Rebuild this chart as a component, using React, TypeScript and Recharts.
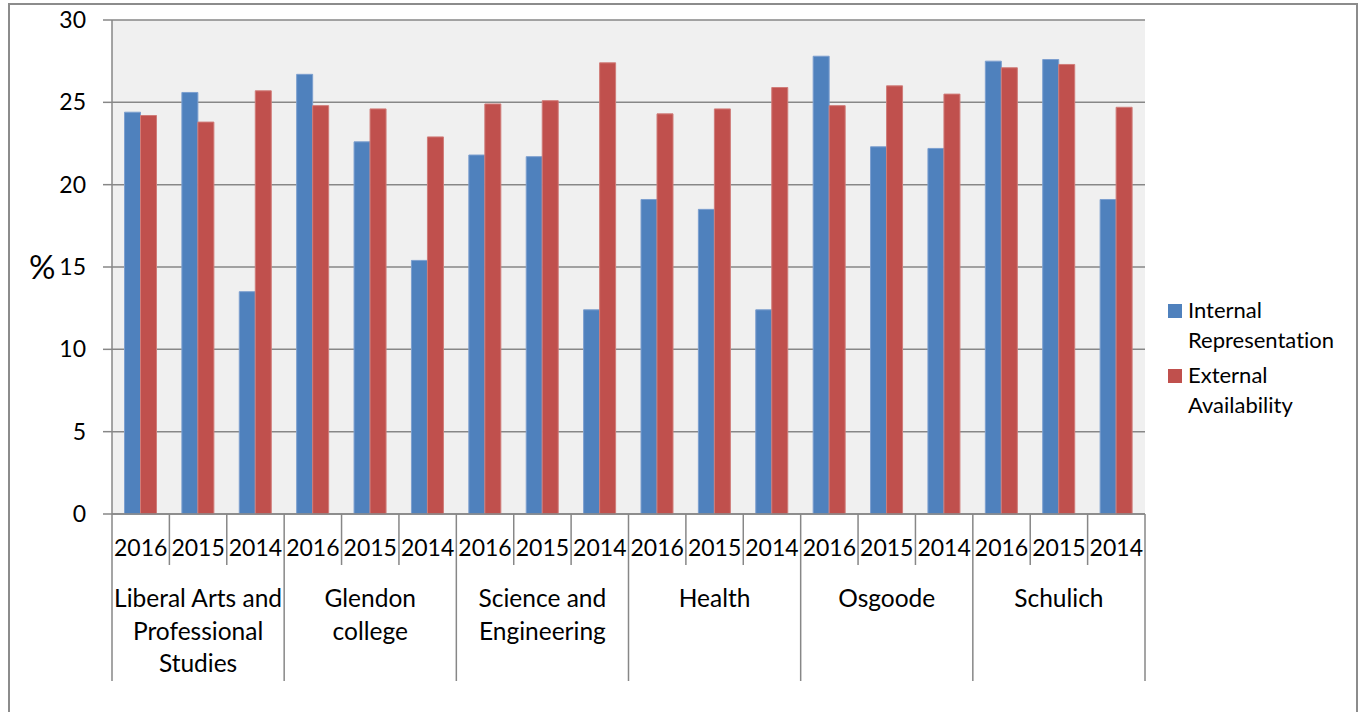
import React from 'react';
import { BarChart, Bar, XAxis, YAxis, CartesianGrid, Legend, Label } from 'recharts';

// ---- data ----
const GROUP_LABELS: string[][] = [
  ['Liberal Arts and', 'Professional', 'Studies'],
  ['Glendon', 'college'],
  ['Science and', 'Engineering'],
  ['Health'],
  ['Osgoode'],
  ['Schulich'],
];
const YEARS = ['2016', '2015', '2014'];
const INTERNAL = [24.4, 25.6, 13.5, 26.7, 22.6, 15.4, 21.8, 21.7, 12.4, 19.1, 18.5, 12.4, 27.8, 22.3, 22.2, 27.5, 27.6, 19.1];
const EXTERNAL = [24.2, 23.8, 25.7, 24.8, 24.6, 22.9, 24.9, 25.1, 27.4, 24.3, 24.6, 25.9, 24.8, 26.0, 25.5, 27.1, 27.3, 24.7];
const Y_TICKS = [0, 5, 10, 15, 20, 25, 30];
const SERIES_NAMES = [['Internal', 'Representation'], ['External', 'Availability']];

const data = INTERNAL.map((v, i) => ({
  year: YEARS[i % 3],
  group: i,
  internal: v,
  external: EXTERNAL[i],
}));

// ---- layout ----
const W = 1364;
const H = 712;
const M = { top: 20, right: 219, left: 0, bottom: 28 };
const Y_AXIS_W = 112;
const PLOT_W = W - M.left - M.right - Y_AXIS_W;
const BAND = PLOT_W / data.length;
const FONT = 'Lato, "Open Sans", sans-serif';
const GRID = '#878787';
const BLUE = '#4F81BD';
const RED = '#C0504D';
const NOLIG: React.CSSProperties = { fontVariantLigatures: 'none', fontFeatureSettings: '"liga" 0' } as any;

const XTick = (props: any) => {
  const { x, y, payload, index } = props;
  const i = typeof index === 'number' ? index : payload.index;
  const half = BAND / 2;
  const groupEnd = (i + 1) % 3 === 0;
  const gIdx = Math.floor(i / 3);
  return (
    <g>
      <text x={x} y={y + 42} textAnchor="middle" fontSize={23} fontFamily={FONT} fill="#000" style={NOLIG}>
        {payload.value}
      </text>
      <line x1={x + half} x2={x + half} y1={y} y2={groupEnd ? y + 167 : y + 51} stroke={GRID} strokeWidth={1.5} />
      {i === 0 && <line x1={x - half} x2={x - half} y1={y} y2={y + 167} stroke={GRID} strokeWidth={1.5} />}
      {i % 3 === 1 &&
        GROUP_LABELS[gIdx].map((ln, k) => (
          <text key={k} x={x} y={y + 93 + k * 32.5} textAnchor="middle" fontSize={24.5} fontFamily={FONT} fill="#000" style={NOLIG}>
            {ln}
          </text>
        ))}
    </g>
  );
};

const LegendContent = () => (
  <div style={{ fontFamily: FONT, fontSize: 22, lineHeight: '30px', color: '#000', ...NOLIG }}>
    {SERIES_NAMES.map((lines, k) => (
      <div key={k} style={{ position: 'relative', paddingLeft: 22, marginBottom: 5 }}>
        <span
          style={{
            position: 'absolute',
            left: 2,
            top: 9,
            width: 14,
            height: 14,
            background: k === 0 ? BLUE : RED,
          }}
        />
        {lines.map((l, j) => (
          <div key={j}>{l}</div>
        ))}
      </div>
    ))}
  </div>
);

export default function App() {
  return (
    <div style={{ position: 'absolute', left: 0, top: 0, width: W, height: H }}>
      <div
        style={{
          position: 'absolute',
          left: 8,
          top: 3,
          width: 1350,
          height: 709,
          boxSizing: 'border-box',
          border: '2px solid #8c8c8c',
          borderBottom: 'none',
        }}
      />
      <div style={{ position: 'absolute', left: 0, top: 0 }}>
        <BarChart width={W} height={H} data={data} margin={M} barCategoryGap={12.5} barGap={0}>
          <CartesianGrid vertical={false} stroke={GRID} strokeWidth={1.5} fill="#F0F0F0" />
          <XAxis
            dataKey="year"
            interval={0}
            height={170}
            tickSize={0}
            tickMargin={0}
            tickLine={false}
            axisLine={{ stroke: GRID, strokeWidth: 1.5 }}
            tick={<XTick />}
          />
          <YAxis
            width={Y_AXIS_W}
            domain={[0, 30]}
            ticks={Y_TICKS}
            interval={0}
            tickSize={9}
            tickMargin={17}
            tickLine={{ stroke: GRID, strokeWidth: 1.5 }}
            axisLine={{ stroke: GRID, strokeWidth: 1.5 }}
            tick={{ fontSize: 23, fontFamily: FONT, fill: '#000' }}
          >
            <Label value="%" position="insideLeft" offset={29} fontSize={33} fontFamily={FONT} fill="#000" />
          </YAxis>
          <Legend
            layout="horizontal"
            verticalAlign="middle"
            align="center"
            content={<LegendContent />}
            wrapperStyle={{ left: 1166, top: 295, width: 200, height: 'auto' }}
          />
          <Bar dataKey="internal" name="Internal Representation" fill={BLUE} stroke="#7c9fcf" strokeWidth={1} isAnimationActive={false} />
          <Bar dataKey="external" name="External Availability" fill={RED} stroke="#d07c79" strokeWidth={1} isAnimationActive={false} />
        </BarChart>
      </div>
    </div>
  );
}
